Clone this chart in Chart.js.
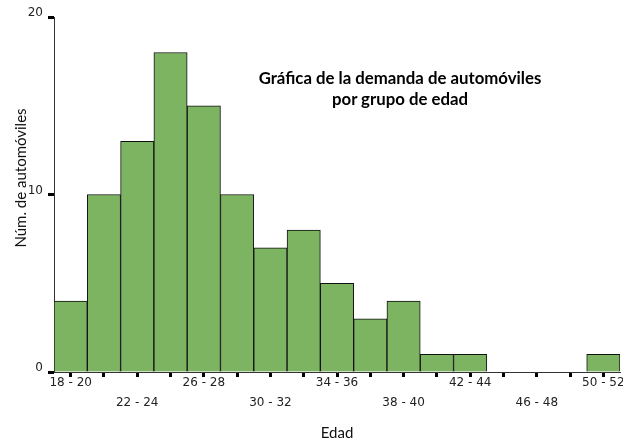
<!DOCTYPE html>
<html>
<head>
<meta charset="utf-8">
<script src="https://cdn.jsdelivr.net/npm/chart.js@4/dist/chart.umd.min.js"></script>
<style>
  body { margin: 0; background: #fff; }
  #wrap { position: relative; width: 623px; height: 443px; overflow: hidden; }
  #titulo {
    position: absolute; left: 230px; top: 67px; width: 340px;
    text-align: center; font: bold 16.8px Lato, sans-serif; line-height: 21px; color: #000;
  }
  #tituloY {
    position: absolute; left: -80px; top: 169px; width: 200px; height: 18px;
    text-align: center; font: 15px Lato, sans-serif; line-height: 18px; color: #111;
    transform: rotate(-90deg);
  }
</style>
</head>
<body>
<div id="wrap">
  <canvas id="grafica" width="623" height="443"></canvas>
  <div id="titulo">Gráfica de la demanda de automóviles<br>por grupo de edad</div>
  <div id="tituloY">Núm. de automóviles</div>
</div>
<script>
// grupos de edad (clases del histograma)
const edades = ['18 - 20', '20 - 22', '22 - 24', '24 - 26', '26 - 28', '28 - 30', '30 - 32', '32 - 34',
  '34 - 36', '36 - 38', '38 - 40', '40 - 42', '42 - 44', '44 - 46', '46 - 48', '48 - 50', '50 - 52'];
// número de automóviles por grupo
const autos = [4, 10, 13, 18, 15, 10, 7, 8, 5, 3, 4, 1, 1, 0, 0, 0, 1];
const yTicks = [0, 10, 20];

const ctx = document.getElementById('grafica').getContext('2d');

new Chart(ctx, {
  type: 'bar',
  data: {
    labels: edades,
    datasets: [{
      data: autos,
      backgroundColor: '#7db462',
      borderColor: '#111',
      borderWidth: 1,
      barPercentage: 1,
      categoryPercentage: 1
    }]
  },
  options: {
    responsive: false,
    animation: false,
    layout: { padding: { top: 17, right: 3, left: 0, bottom: 0 } },
    plugins: { legend: { display: false }, tooltip: { enabled: false } },
    scales: {
      x: {
        grid: { display: true, drawOnChartArea: false, drawTicks: true, tickLength: 5, tickWidth: 3, tickColor: '#000', offset: false },
        border: { display: true, color: '#333', width: 1 },
        ticks: {
          autoSkip: false, maxRotation: 0, minRotation: 0, padding: -4, color: '#222',
          font: { family: 'DejaVu Sans', size: 12, lineHeight: '20px' },
          callback: function (val, i) {
            // etiquetas alternadas en dos filas
            if (i % 2) return '';
            return i % 4 === 0 ? edades[i] : ['', edades[i]];
          }
        },
        title: { display: true, text: 'Edad', color: '#111', font: { family: 'Lato', size: 15 }, padding: { top: 0, bottom: 1 } },
        afterFit: function (s) { s.height = 71; }
      },
      y: {
        min: 0, max: 20,
        afterBuildTicks: function (s) { s.ticks = yTicks.map(v => ({ value: v })); },
        grid: { display: true, drawOnChartArea: false, drawTicks: true, tickLength: 6, tickWidth: 3, tickColor: '#000' },
        border: { display: true, color: '#333', width: 1 },
        ticks: { padding: 5, labelOffset: -4, color: '#222', font: { family: 'DejaVu Sans', size: 12 } },
        afterFit: function (s) { s.width = 54; }
      }
    }
  }
});
</script>
</body>
</html>
